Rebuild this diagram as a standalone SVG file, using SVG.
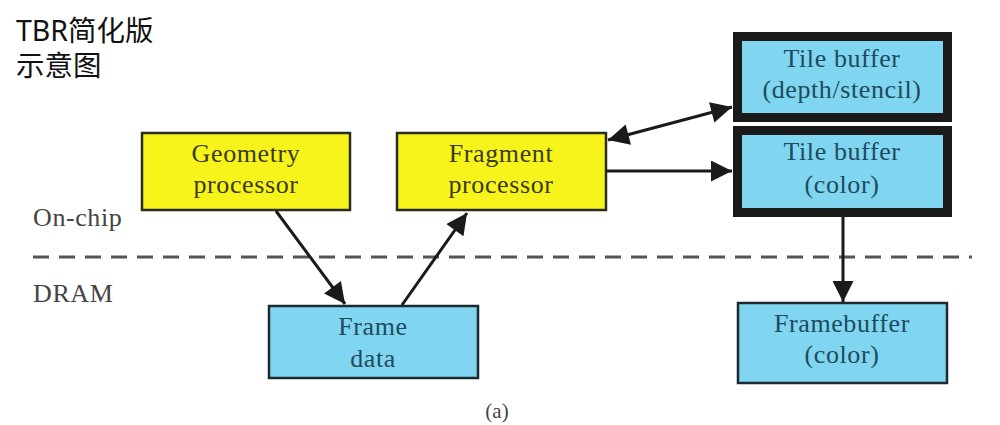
<svg xmlns="http://www.w3.org/2000/svg" width="1000" height="425" viewBox="0 0 1000 425">
<defs>
<marker id="ah" viewBox="0 0 10 10" refX="10" refY="5" markerWidth="8" markerHeight="7" markerUnits="strokeWidth" orient="auto-start-reverse">
<path d="M0,0 L10,5 L0,10 z" fill="#1a1a1a"/>
</marker>
</defs>
<style>
.yel{fill:#f7f41c;stroke:#2b2b1a;stroke-width:2.5}
.blu{fill:#80d5f0;stroke:#1e2a30;stroke-width:2.5}
.blk{fill:#80d5f0;stroke:#1a1a1a;stroke-width:9}
.ty{font-family:"Liberation Serif",serif;font-size:26px;letter-spacing:0.6px;fill:#3b3a14;text-anchor:middle}
.tb{font-family:"Liberation Serif",serif;font-size:26px;letter-spacing:0.6px;fill:#1d4b5c;text-anchor:middle}
.lbl{font-family:"Liberation Serif",serif;font-size:26px;letter-spacing:0.6px;fill:#444}
.title{font-family:"Noto Sans","Noto Sans CJK SC",sans-serif;font-size:28.5px;fill:#111}
.con{stroke:#1a1a1a;stroke-width:3;fill:none}
</style>
<rect width="1000" height="425" fill="#fff"/>
<g id="title">
<text class="title" x="16" y="41">TBR简化版</text>
<text class="title" x="16" y="76">示意图</text>
</g>
<g id="labels">
<text class="lbl" x="33" y="226">On-chip</text>
<text class="lbl" x="33" y="302">DRAM</text>
<text x="497" y="418" font-family="Liberation Serif,serif" font-size="21" fill="#444" text-anchor="middle">(a)</text>
</g>
<line id="divider" x1="33" y1="257" x2="972" y2="257" stroke="#555" stroke-width="3" stroke-dasharray="16 10"/>
<g id="geometry">
<rect class="yel" x="142" y="133" width="208" height="77"/>
<text class="ty" x="246" y="162">Geometry</text>
<text class="ty" x="246" y="193">processor</text>
</g>
<g id="fragment">
<rect class="yel" x="397" y="133" width="209" height="77"/>
<text class="ty" x="501" y="162">Fragment</text>
<text class="ty" x="501" y="193">processor</text>
</g>
<g id="tile-depth">
<rect class="blk" x="737.5" y="36.5" width="210" height="81"/>
<text class="tb" x="842" y="67">Tile buffer</text>
<text class="tb" x="842" y="98">(depth/stencil)</text>
</g>
<g id="tile-color">
<rect class="blk" x="737.5" y="130.5" width="210" height="82"/>
<text class="tb" x="842" y="160">Tile buffer</text>
<text class="tb" x="842" y="193">(color)</text>
</g>
<g id="frame-data">
<rect class="blu" x="269" y="306" width="209" height="72"/>
<text class="tb" x="373" y="335">Frame</text>
<text class="tb" x="373" y="367">data</text>
</g>
<g id="framebuffer">
<rect class="blu" x="738" y="303" width="209" height="80"/>
<text class="tb" x="842" y="332">Framebuffer</text>
<text class="tb" x="842" y="363">(color)</text>
</g>
<g id="connectors">
<line class="con" x1="276" y1="211" x2="345" y2="304" marker-end="url(#ah)"/>
<line class="con" x1="402" y1="305" x2="467" y2="213" marker-end="url(#ah)"/>
<line class="con" x1="608" y1="140" x2="732" y2="107" marker-start="url(#ah)" marker-end="url(#ah)"/>
<line class="con" x1="606" y1="171" x2="732" y2="171" marker-end="url(#ah)"/>
<line class="con" x1="843" y1="217" x2="843" y2="302" marker-end="url(#ah)"/>
</g>
</svg>
